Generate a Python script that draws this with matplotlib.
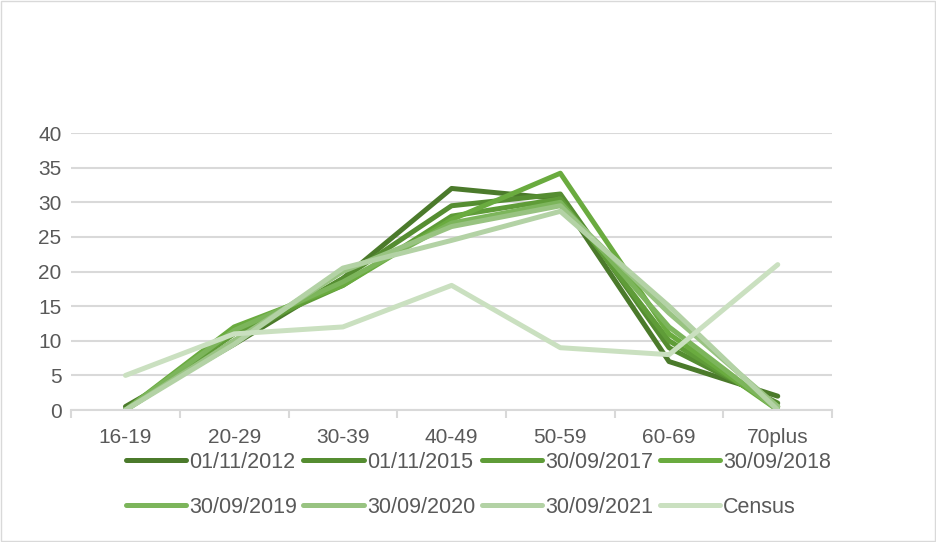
import matplotlib.pyplot as plt
import numpy as np

ages = ['16-19', '20-29', '30-39', '40-49', '50-59', '60-69', '70plus']
series_names = ['01/11/2012', '01/11/2015', '30/09/2017', '30/09/2018',
                '30/09/2019', '30/09/2020', '30/09/2021', 'Census']
s2012 = [0.5, 9.5, 19, 32, 30.5, 7, 2]
s2015 = [0, 10, 19, 29.5, 31.2, 9, 1]
s2017 = [0, 11, 18, 28, 30.5, 10, 0.5]
s2018 = [0, 12, 18, 27.5, 34.2, 11, 0]
s2019 = [0, 11.5, 18.5, 27, 30, 12, 0]
s2020 = [0, 10, 20, 26.5, 29.5, 14, 0.5]
s2021 = [0, 9.5, 20.5, 24.5, 28.7, 15, 0]
census = [5, 11, 12, 18, 9, 8, 21]
colors = ['#4b7a2b', '#558d31', '#5f9c38', '#6aab3f',
          '#7cb55b', '#98c381', '#b3d2a5', '#cae0c0']

plt.rcParams['font.family'] = ['Liberation Sans', 'DejaVu Sans']

fig = plt.figure(figsize=(9.36, 5.42), dpi=100)
ax = fig.add_axes([0.076, 0.2435, 0.813, 0.511])

x = np.arange(len(ages))
all_series = [s2012, s2015, s2017, s2018, s2019, s2020, s2021, census]
lines = []
for vals, name, c in zip(all_series, series_names, colors):
    ln, = ax.plot(x, vals, color=c, lw=3.6, label=name, solid_capstyle='round')
    lines.append(ln)

ax.set_xlim(-0.5, 6.5)
ax.set_ylim(0, 40)
ax.set_yticks(range(0, 41, 5))
ax.set_xticks(x)
ax.set_xticklabels(ages)
ax.set_xticks(np.arange(-0.5, 7, 1), minor=True)
ax.tick_params(axis='x', which='major', length=0, pad=13)
ax.tick_params(axis='x', which='minor', length=6, color='#d9d9d9', width=1.5)
ax.tick_params(axis='y', length=0, pad=7)
ax.tick_params(labelsize=15, labelcolor='#595959')
ax.grid(axis='y', color='#d9d9d9', lw=1.5)
ax.set_axisbelow(True)
for s in ['top', 'right', 'left']:
    ax.spines[s].set_visible(False)
ax.spines['bottom'].set_color('#d9d9d9')
ax.spines['bottom'].set_linewidth(1.5)

# legend is filled row by row in the original
order = [0, 4, 1, 5, 2, 6, 3, 7]
fig.legend([lines[i] for i in order], [series_names[i] for i in order],
           loc='upper center', bbox_to_anchor=(0.511, 0.166), ncol=4,
           frameon=False, fontsize=15.5, labelcolor='#595959',
           handlelength=2.8, handletextpad=0.15, columnspacing=0.3,
           labelspacing=1.1, borderpad=0, borderaxespad=0)

fig.patches.append(plt.Rectangle((0.001, 0.001), 0.998, 0.998, transform=fig.transFigure,
                                 fill=False, edgecolor='#d9d9d9', lw=1))

fig.savefig('out.png', dpi=100)
